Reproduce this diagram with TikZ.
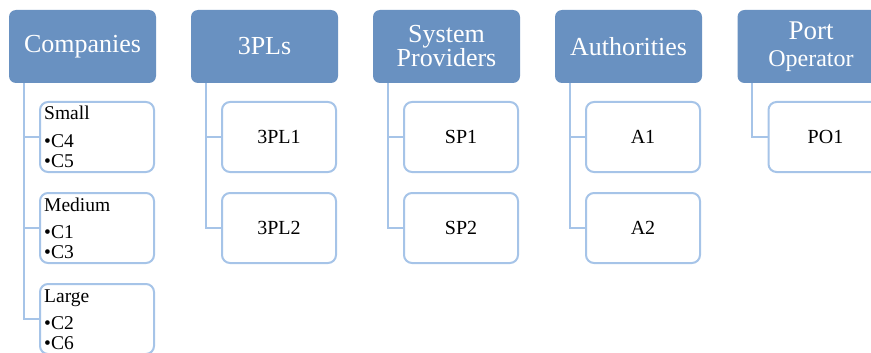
\documentclass[tikz,border=0pt]{standalone}
\usepackage{fontspec}
\setmainfont{Liberation Serif}
\definecolor{hdrfill}{RGB}{105,145,193}
\definecolor{itemline}{RGB}{166,196,232}

\begin{document}
\begin{tikzpicture}[x=1pt,y=-1pt,
  header/.style={fill=hdrfill, rounded corners=7pt, minimum width=147pt,
    minimum height=73pt, inner sep=0pt, text=white, align=center,
    font=\fontsize{26}{25}\selectfont},
  item/.style={draw=itemline, line width=2pt, fill=white, rounded corners=8pt,
    minimum width=114pt, minimum height=70pt, inner sep=0pt,
    font=\fontsize{20}{22}\selectfont},
  listtext/.style={anchor=base west, inner sep=0pt, font=\fontsize{19.5}{21}\selectfont},
  link/.style={draw=itemline, line width=2pt}]

\useasboundingbox (0,0) rectangle (871,353);

% column headers
\node[header] (comp) at (82.5,46.5) {Companies};
\node[header] (tpl)  at (264.5,46.5) {3PLs};
\node[header] (sp)   at (446.5,46.5) {System\\[-1pt]Providers};
\node[header] (auth) at (628.5,46.5) {Authorities};
\node[header] (po)   at (811,46.5) {{\fontsize{27}{26}\selectfont Port}\\[1.5pt]{\fontsize{24}{24}\selectfont Operator}};

% companies, grouped by size
\node[item] (small)  at (97,137) {};
\node[item] (medium) at (97,228) {};
\node[item] (large)  at (97,319) {};
\node[listtext] (smallA) at (44,120) {Small};
\node[listtext] (smallB) at (44,147) {•C4};
\node[listtext] (smallC) at (44,167) {•C5};
\node[listtext] (mediumA) at (44,211) {Medium};
\node[listtext] (mediumB) at (44,238) {•C1};
\node[listtext] (mediumC) at (44,258) {•C3};
\node[listtext] (largeA) at (44,302) {Large};
\node[listtext] (largeB) at (44,329) {•C2};
\node[listtext] (largeC) at (44,349) {•C6};

% members of the other groups
\node[item] (tplA) at (279,137) {3PL1};
\node[item] (tplB) at (279,228) {3PL2};
\node[item] (spA)  at (461,137) {SP1};
\node[item] (spB)  at (461,228) {SP2};
\node[item] (authA) at (643,137) {A1};
\node[item] (authB) at (643,228) {A2};
\node[item] (poA)  at (825.5,137) {PO1};

% tree connectors
\foreach \h/\c in {comp/small, comp/medium, comp/large, tpl/tplA, tpl/tplB,
                   sp/spA, sp/spB, auth/authA, auth/authB, po/poA}
  \draw[link] ([xshift=15pt]\h.south west) |- (\c.west);
\end{tikzpicture}
\end{document}
